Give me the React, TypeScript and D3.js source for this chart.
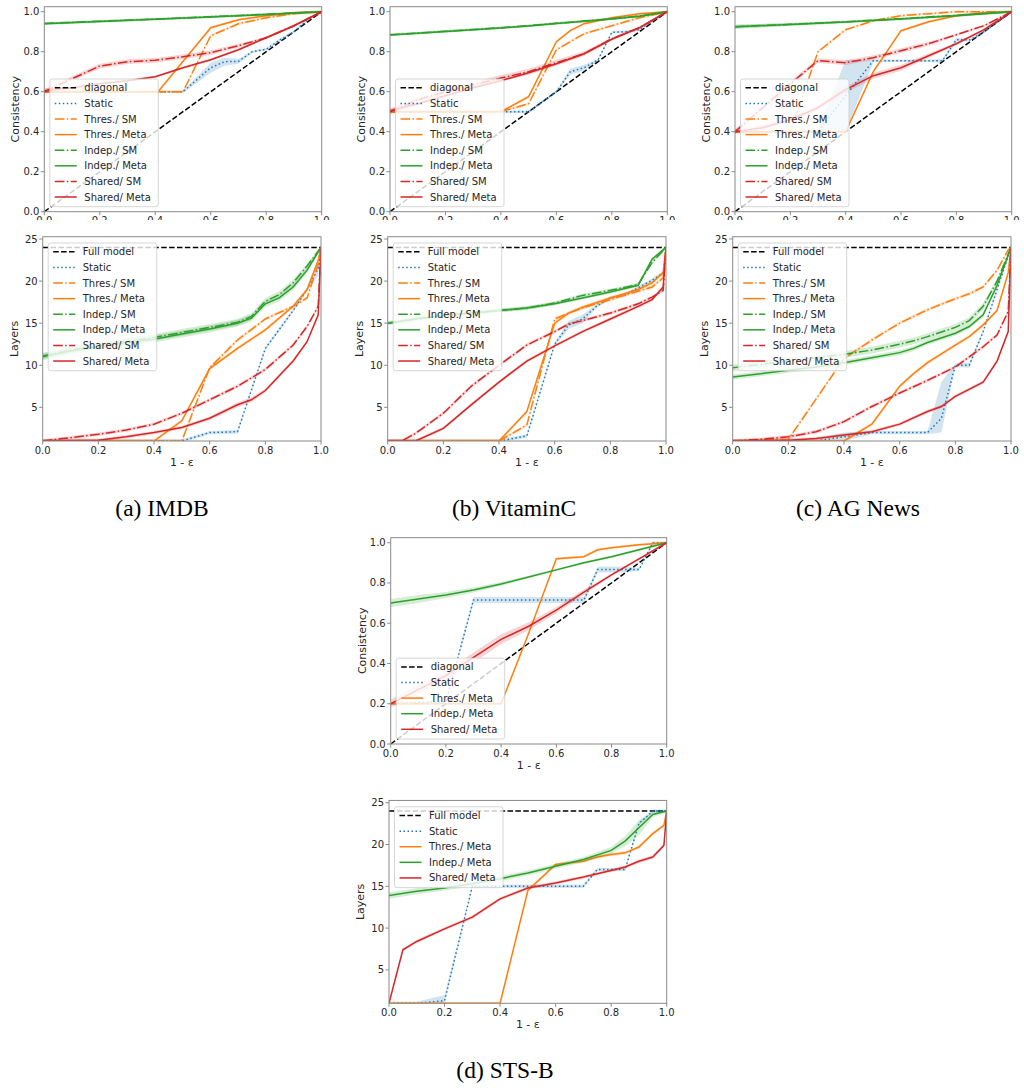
import React from "react";
import * as d3 from "d3";

type P = number[]; // [x, y, sd?] or [x, y, lo, hi]

// ---------------- IMDB ----------------
const imdbConsStatic: P[] = [[0, 0.6], [0.5, 0.6], [0.6, 0.72, 0.025], [0.65, 0.75, 0.02], [0.7, 0.752, 0.012], [0.75, 0.8], [0.8, 0.812], [0.85, 0.86], [0.9, 0.9], [0.95, 0.96], [1, 1]];
const imdbConsThresSM: P[] = [[0, 0.6], [0.5, 0.6], [0.6, 0.88], [0.7, 0.94], [0.8, 0.97], [0.9, 0.99], [1, 1]];
const imdbConsThresMeta: P[] = [[0, 0.6], [0.41, 0.6], [0.6, 0.92], [0.7, 0.96], [0.8, 0.98], [0.9, 0.995], [1, 1]];
const imdbConsIndepSM: P[] = [[0, 0.941], [0.2, 0.952], [0.4, 0.963], [0.6, 0.975], [0.8, 0.987], [1, 1]];
const imdbConsIndepMeta: P[] = [[0, 0.94], [0.2, 0.951], [0.4, 0.962], [0.6, 0.974], [0.8, 0.986], [1, 1]];
const imdbConsSharedSM: P[] = [[0, 0.6, 0.012], [0.1, 0.665, 0.012], [0.2, 0.728, 0.012], [0.3, 0.75, 0.012], [0.4, 0.757, 0.012], [0.5, 0.775, 0.012], [0.6, 0.795, 0.012], [0.7, 0.83, 0.01], [0.8, 0.87], [0.9, 0.93], [1, 1]];
const imdbConsSharedMeta: P[] = [[0, 0.605, 0.012], [0.1, 0.62], [0.2, 0.64], [0.3, 0.655], [0.4, 0.675], [0.5, 0.72], [0.6, 0.76], [0.7, 0.81], [0.8, 0.87], [0.9, 0.93], [1, 1]];

const imdbLayStatic: P[] = [[0, 1], [0.5, 1], [0.6, 2], [0.7, 2.1], [0.8, 12], [0.9, 16.5], [0.95, 19], [0.99, 21.5, 0.8], [1, 24]];
const imdbLayThresSM: P[] = [[0, 1], [0.5, 1], [0.6, 9.7], [0.7, 13], [0.8, 15.5], [0.9, 17], [0.95, 18], [0.99, 22], [1, 24]];
const imdbLayThresMeta: P[] = [[0, 1], [0.4, 1], [0.5, 3.4], [0.6, 9.6], [0.7, 12], [0.8, 14.2], [0.9, 17], [0.95, 19], [0.99, 22.5], [1, 24]];
const imdbLayIndepSM: P[] = [[0, 11.1, 0.4], [0.1, 11.8, 0.4], [0.2, 12.3, 0.4], [0.3, 12.8, 0.4], [0.4, 13.3, 0.4], [0.5, 13.9, 0.4], [0.6, 14.5, 0.4], [0.7, 15.1, 0.4], [0.75, 15.8, 0.4], [0.8, 17.6, 0.4], [0.85, 18.4, 0.4], [0.9, 19.8, 0.4], [0.95, 21.8, 0.3], [1, 24]];
const imdbLayIndepMeta: P[] = [[0, 11, 0.4], [0.1, 11.7, 0.4], [0.2, 12.2, 0.4], [0.3, 12.7, 0.4], [0.4, 13.1, 0.4], [0.5, 13.7, 0.4], [0.6, 14.3, 0.4], [0.7, 15, 0.4], [0.75, 15.6, 0.4], [0.8, 17.3, 0.4], [0.85, 18, 0.4], [0.9, 19.3, 0.4], [0.95, 21.3, 0.3], [1, 24]];
const imdbLaySharedSM: P[] = [[0, 1], [0.1, 1.4], [0.2, 1.8], [0.3, 2.3], [0.4, 3.0], [0.5, 4.3], [0.6, 5.9], [0.7, 7.5], [0.8, 9.5], [0.9, 12.4], [0.95, 14.6], [0.99, 17], [1, 24]];
const imdbLaySharedMeta: P[] = [[0, 1], [0.2, 1.1], [0.3, 1.5], [0.4, 2], [0.5, 2.6], [0.6, 3.7], [0.7, 5.3, 0.3], [0.75, 5.9, 0.3], [0.8, 7], [0.9, 10.5], [0.95, 12.8], [0.99, 16], [1, 24]];

// ---------------- VitaminC ----------------
const vitConsStatic: P[] = [[0, 0.5], [0.5, 0.5], [0.6, 0.6], [0.65, 0.7, 0.015], [0.7, 0.72, 0.015], [0.75, 0.758], [0.8, 0.897], [0.85, 0.9], [0.9, 0.91], [0.95, 0.96], [1, 1]];
const vitConsThresSM: P[] = [[0, 0.5], [0.4, 0.5], [0.5, 0.54], [0.6, 0.81], [0.7, 0.89], [0.8, 0.93], [0.9, 0.97], [1, 1]];
const vitConsThresMeta: P[] = [[0, 0.5], [0.4, 0.5], [0.5, 0.575], [0.6, 0.85], [0.65, 0.905], [0.7, 0.94], [0.8, 0.97], [0.9, 0.99], [1, 1]];
const vitConsIndepSM: P[] = [[0, 0.885], [0.1, 0.893], [0.2, 0.902], [0.3, 0.911], [0.4, 0.92], [0.5, 0.93], [0.6, 0.942], [0.7, 0.953], [0.8, 0.965], [0.9, 0.978], [1, 1]];
const vitConsIndepMeta: P[] = [[0, 0.884], [0.1, 0.892], [0.2, 0.901], [0.3, 0.91], [0.4, 0.919], [0.5, 0.929], [0.6, 0.941], [0.7, 0.952], [0.8, 0.964], [0.9, 0.977], [1, 1]];
const vitConsSharedSM: P[] = [[0, 0.5, 0.015], [0.1, 0.56, 0.015], [0.2, 0.6, 0.015], [0.3, 0.635, 0.015], [0.4, 0.668, 0.015], [0.5, 0.7, 0.015], [0.6, 0.745, 0.015], [0.7, 0.79, 0.012], [0.8, 0.865], [0.9, 0.92], [1, 1]];
const vitConsSharedMeta: P[] = [[0, 0.505, 0.01], [0.1, 0.54], [0.2, 0.58], [0.3, 0.62], [0.4, 0.655], [0.5, 0.695], [0.6, 0.74], [0.7, 0.79], [0.8, 0.862], [0.9, 0.92], [1, 1]];

const vitLayStatic: P[] = [[0, 1], [0.4, 1], [0.5, 1.6], [0.6, 12.5], [0.65, 14.8, 0.5], [0.7, 15.5, 0.5], [0.75, 17], [0.8, 18], [0.85, 18.3], [0.9, 19.2], [0.95, 20.1], [0.99, 21], [1, 24]];
const vitLayThresSM: P[] = [[0, 1], [0.4, 1], [0.5, 2.9], [0.6, 15.5], [0.65, 16.2], [0.7, 16.8], [0.8, 17.8], [0.9, 18.8], [0.95, 19.3], [0.99, 20.4], [1, 24]];
const vitLayThresMeta: P[] = [[0, 1], [0.4, 1], [0.5, 4.5], [0.6, 15], [0.65, 16.2], [0.7, 16.9], [0.8, 18], [0.9, 19], [0.95, 19.8], [0.99, 21], [1, 24]];
const vitLayIndepSM: P[] = [[0, 15], [0.1, 15.5], [0.2, 15.9], [0.3, 16.2], [0.4, 16.5], [0.5, 16.8], [0.6, 17.4], [0.7, 18.3], [0.8, 18.9], [0.9, 19.6], [0.95, 22.2], [1, 24]];
const vitLayIndepMeta: P[] = [[0, 15], [0.1, 15.5], [0.2, 15.9], [0.3, 16.2], [0.4, 16.5], [0.5, 16.8], [0.6, 17.3], [0.7, 18], [0.8, 18.7], [0.9, 19.5], [0.95, 22.6], [1, 24]];
const vitLaySharedSM: P[] = [[0, 1], [0.05, 1], [0.1, 1.9], [0.2, 4.3], [0.3, 7.5], [0.4, 10], [0.5, 12.4], [0.6, 14], [0.65, 14.9], [0.7, 15.3], [0.8, 16.2], [0.9, 17.3], [0.95, 18.1], [0.99, 18.9], [1, 24]];
const vitLaySharedMeta: P[] = [[0, 1], [0.1, 1], [0.2, 2.5], [0.3, 5.3], [0.4, 8], [0.5, 10.5], [0.6, 12.3], [0.7, 14], [0.8, 15.5], [0.9, 17], [0.95, 17.8], [0.99, 19.3], [1, 24]];

// ---------------- AG News ----------------
const agConsStatic: P[] = [[0, 0.4], [0.3, 0.4], [0.4, 0.58, 0.18], [0.5, 0.755], [0.6, 0.755], [0.7, 0.755], [0.75, 0.755, 0.01], [0.8, 0.86, 0.01], [0.85, 0.86], [0.9, 0.9], [1, 1]];
const agConsThresSM: P[] = [[0, 0.4], [0.2, 0.4], [0.3, 0.8], [0.4, 0.91], [0.5, 0.955], [0.6, 0.98], [0.7, 0.99], [0.8, 1], [1, 1]];
const agConsThresMeta: P[] = [[0, 0.4], [0.4, 0.4], [0.5, 0.7], [0.6, 0.905], [0.7, 0.95], [0.8, 0.98], [0.9, 0.995], [1, 1]];
const agConsIndepSM: P[] = [[0, 0.925, 0.01], [0.2, 0.937, 0.008], [0.4, 0.95], [0.6, 0.965], [0.8, 0.982], [1, 1]];
const agConsIndepMeta: P[] = [[0, 0.925, 0.01], [0.2, 0.936], [0.4, 0.948], [0.6, 0.963], [0.8, 0.98], [1, 1]];
const agConsSharedSM: P[] = [[0, 0.4, 0.012], [0.1, 0.52, 0.012], [0.2, 0.64, 0.012], [0.3, 0.755, 0.012], [0.4, 0.745, 0.012], [0.5, 0.77, 0.012], [0.6, 0.805, 0.012], [0.7, 0.84, 0.01], [0.8, 0.885], [0.9, 0.93], [1, 1]];
const agConsSharedMeta: P[] = [[0, 0.4, 0.012], [0.1, 0.42, 0.012], [0.2, 0.46, 0.012], [0.3, 0.52, 0.012], [0.4, 0.61, 0.015], [0.5, 0.68, 0.015], [0.6, 0.72, 0.015], [0.7, 0.78, 0.012], [0.8, 0.84], [0.9, 0.91], [1, 1]];

const agLayStatic: P[] = [[0, 1], [0.3, 1], [0.4, 1.5, 1, 2], [0.5, 2], [0.6, 2], [0.7, 2], [0.75, 3.7, 2, 8], [0.8, 10], [0.85, 10, 9.7, 10.3], [0.9, 14], [0.95, 19], [0.99, 23], [1, 24]];
const agLayThresSM: P[] = [[0, 1], [0.2, 1.2], [0.3, 6], [0.4, 10.8], [0.5, 13], [0.6, 15], [0.7, 16.6], [0.8, 17.9], [0.85, 18.5], [0.9, 19.3], [0.95, 21.3], [0.99, 23.7], [1, 24]];
const agLayThresMeta: P[] = [[0, 1], [0.4, 1], [0.5, 3], [0.6, 7.5], [0.65, 9], [0.7, 10.3], [0.8, 12.4], [0.85, 13.4], [0.9, 14.8], [0.95, 16.5], [0.99, 21], [1, 24]];
const agLayIndepSM: P[] = [[0, 9.7, 0.4], [0.1, 10.1, 0.4], [0.2, 10.5, 0.4], [0.3, 10.9, 0.4], [0.4, 11.3, 0.4], [0.5, 11.8, 0.4], [0.6, 12.5, 0.4], [0.65, 12.9, 0.4], [0.7, 13.4, 0.4], [0.8, 14.5, 0.4], [0.85, 15.3, 0.4], [0.9, 17, 0.4], [0.95, 20, 0.3], [1, 24]];
const agLayIndepMeta: P[] = [[0, 8.6, 0.3], [0.1, 9, 0.3], [0.2, 9.4, 0.3], [0.3, 9.8, 0.3], [0.4, 10.3, 0.3], [0.5, 10.9, 0.3], [0.6, 11.5, 0.3], [0.65, 12, 0.3], [0.7, 12.7, 0.3], [0.8, 13.8, 0.3], [0.85, 14.6, 0.3], [0.9, 16, 0.3], [0.95, 19.5, 0.3], [1, 24]];
const agLaySharedSM: P[] = [[0, 1], [0.1, 1.2], [0.2, 1.5], [0.3, 2.1], [0.4, 3.3], [0.5, 5.1], [0.6, 6.7], [0.7, 8.2], [0.8, 9.8], [0.85, 11], [0.9, 12.2], [0.95, 13.6], [0.99, 16.4], [1, 24]];
const agLaySharedMeta: P[] = [[0, 1], [0.1, 1.05], [0.2, 1.1], [0.3, 1.3], [0.4, 1.7], [0.5, 2.1], [0.6, 3], [0.7, 4.5], [0.75, 5.1], [0.8, 6.3], [0.9, 8], [0.95, 10.5], [0.99, 14], [1, 24]];

// ---------------- STS-B ----------------
const stsConsStatic: P[] = [[0, 0.2], [0.2, 0.21], [0.3, 0.715, 0.015], [0.4, 0.715, 0.015], [0.5, 0.715, 0.015], [0.6, 0.715, 0.015], [0.7, 0.715, 0.015], [0.75, 0.867, 0.015], [0.8, 0.867, 0.015], [0.85, 0.867, 0.015], [0.9, 0.867], [0.95, 1], [1, 1]];
const stsConsThresMeta: P[] = [[0, 0.2], [0.4, 0.2], [0.5, 0.55], [0.6, 0.92], [0.7, 0.93], [0.75, 0.965], [0.8, 0.975], [0.9, 0.99], [1, 1]];
const stsConsIndepMeta: P[] = [[0, 0.7, 0.02], [0.1, 0.72, 0.02], [0.2, 0.74, 0.015], [0.3, 0.765, 0.012], [0.4, 0.795, 0.01], [0.5, 0.83], [0.6, 0.865], [0.7, 0.9], [0.8, 0.93], [0.9, 0.965], [1, 1]];
const stsConsSharedMeta: P[] = [[0, 0.2, 0.02], [0.1, 0.27, 0.025], [0.2, 0.34, 0.025], [0.3, 0.43, 0.025], [0.4, 0.52, 0.025], [0.5, 0.585, 0.02], [0.6, 0.665, 0.015], [0.7, 0.755, 0.012], [0.8, 0.84], [0.9, 0.92], [1, 1]];

const stsLayStatic: P[] = [[0, 1], [0.1, 1], [0.2, 1.3, 1, 2], [0.3, 15], [0.4, 15], [0.5, 15], [0.6, 15], [0.7, 15], [0.75, 17], [0.8, 17], [0.85, 17], [0.9, 22.5], [0.95, 24], [1, 24]];
const stsLayThresMeta: P[] = [[0, 1], [0.4, 1], [0.5, 14.5], [0.6, 17.6], [0.7, 18], [0.75, 18.5], [0.8, 18.8], [0.85, 19], [0.9, 19.7], [0.95, 21.3], [0.99, 22.3], [1, 24]];
const stsLayIndepMeta: P[] = [[0, 13.9, 0.4], [0.1, 14.4, 0.35], [0.2, 14.8, 0.3], [0.3, 15.3, 0.3], [0.4, 15.9, 0.3], [0.5, 16.6, 0.3], [0.6, 17.4, 0.3], [0.7, 18.2, 0.3], [0.8, 19.3, 0.4], [0.85, 20.4, 0.6], [0.9, 22, 0.9], [0.95, 23.6, 0.3], [1, 24]];
const stsLaySharedMeta: P[] = [[0, 1], [0.05, 7.4], [0.1, 8.4], [0.2, 9.9], [0.3, 11.3], [0.4, 13.5], [0.5, 14.8], [0.6, 15.4], [0.7, 16.1], [0.8, 16.9], [0.85, 17.3], [0.9, 18], [0.95, 18.5], [0.99, 19.9], [1, 24]];

// ---------------- labels ----------------
const X_TICKS = [0, 0.2, 0.4, 0.6, 0.8, 1.0];
const CONS_TICKS = [0, 0.2, 0.4, 0.6, 0.8, 1.0];
const LAYER_TICKS = [5, 10, 15, 20, 25];
const X_LABEL = "1 - ε";
const CAPTIONS = ["(a) IMDB", "(b) VitaminC", "(c) AG News", "(d) STS-B"];

// ---------------- styles ----------------
const STYLE: Record<string, { color: string; dash?: string }> = {
  diagonal: { color: "#000000", dash: "5.5,2.4" },
  "Full model": { color: "#000000", dash: "5.5,2.4" },
  Static: { color: "#1f77b4", dash: "1.5,2.5" },
  "Thres./ SM": { color: "#ff7f0e", dash: "9.6,2.4,1.5,2.4" },
  "Thres./ Meta": { color: "#ff7f0e" },
  "Indep./ SM": { color: "#2ca02c", dash: "9.6,2.4,1.5,2.4" },
  "Indep./ Meta": { color: "#2ca02c" },
  "Shared/ SM": { color: "#d62728", dash: "9.6,2.4,1.5,2.4" },
  "Shared/ Meta": { color: "#d62728" },
};

type Ser = [string, P[]];
type PanelDef = {
  id: string;
  kind: "cons" | "layers";
  series: Ser[];
  x0: number;
  x1: number;
  yLo: number; // pixel of lowest tick value (0 or 1)
  yHi: number; // pixel of 1.0 or 25
  clip: [number, number];
};

const PANELS: PanelDef[] = [
  {
    id: "aT", kind: "cons", x0: 44.3, x1: 321.7, yLo: 211.7, yHi: 11.7, clip: [0, 220],
    series: [["Static", imdbConsStatic], ["Thres./ SM", imdbConsThresSM], ["Thres./ Meta", imdbConsThresMeta], ["Indep./ SM", imdbConsIndepSM], ["Indep./ Meta", imdbConsIndepMeta], ["Shared/ SM", imdbConsSharedSM], ["Shared/ Meta", imdbConsSharedMeta]],
  },
  {
    id: "bT", kind: "cons", x0: 390, x1: 667.3, yLo: 211.7, yHi: 11.7, clip: [0, 220],
    series: [["Static", vitConsStatic], ["Thres./ SM", vitConsThresSM], ["Thres./ Meta", vitConsThresMeta], ["Indep./ SM", vitConsIndepSM], ["Indep./ Meta", vitConsIndepMeta], ["Shared/ SM", vitConsSharedSM], ["Shared/ Meta", vitConsSharedMeta]],
  },
  {
    id: "cT", kind: "cons", x0: 735, x1: 1011.7, yLo: 211.7, yHi: 11.7, clip: [0, 220],
    series: [["Static", agConsStatic], ["Thres./ SM", agConsThresSM], ["Thres./ Meta", agConsThresMeta], ["Indep./ SM", agConsIndepSM], ["Indep./ Meta", agConsIndepMeta], ["Shared/ SM", agConsSharedSM], ["Shared/ Meta", agConsSharedMeta]],
  },
  {
    id: "aB", kind: "layers", x0: 42.7, x1: 321, yLo: 441, yHi: 239, clip: [220, 480],
    series: [["Static", imdbLayStatic], ["Thres./ SM", imdbLayThresSM], ["Thres./ Meta", imdbLayThresMeta], ["Indep./ SM", imdbLayIndepSM], ["Indep./ Meta", imdbLayIndepMeta], ["Shared/ SM", imdbLaySharedSM], ["Shared/ Meta", imdbLaySharedMeta]],
  },
  {
    id: "bB", kind: "layers", x0: 387.7, x1: 666, yLo: 441, yHi: 239, clip: [220, 480],
    series: [["Static", vitLayStatic], ["Thres./ SM", vitLayThresSM], ["Thres./ Meta", vitLayThresMeta], ["Indep./ SM", vitLayIndepSM], ["Indep./ Meta", vitLayIndepMeta], ["Shared/ SM", vitLaySharedSM], ["Shared/ Meta", vitLaySharedMeta]],
  },
  {
    id: "cB", kind: "layers", x0: 732.7, x1: 1011, yLo: 441, yHi: 239, clip: [220, 480],
    series: [["Static", agLayStatic], ["Thres./ SM", agLayThresSM], ["Thres./ Meta", agLayThresMeta], ["Indep./ SM", agLayIndepSM], ["Indep./ Meta", agLayIndepMeta], ["Shared/ SM", agLaySharedSM], ["Shared/ Meta", agLaySharedMeta]],
  },
  {
    id: "dT", kind: "cons", x0: 390.7, x1: 666.7, yLo: 744, yHi: 542.7, clip: [525, 775],
    series: [["Static", stsConsStatic], ["Thres./ Meta", stsConsThresMeta], ["Indep./ Meta", stsConsIndepMeta], ["Shared/ Meta", stsConsSharedMeta]],
  },
  {
    id: "dB", kind: "layers", x0: 389, x1: 666.7, yLo: 1003.3, yHi: 802.7, clip: [775, 1040],
    series: [["Static", stsLayStatic], ["Thres./ Meta", stsLayThresMeta], ["Indep./ Meta", stsLayIndepMeta], ["Shared/ Meta", stsLaySharedMeta]],
  },
];

const CAPTION_POS: [number, number][] = [[162, 516], [514, 516], [858, 516], [505, 1078]];

const FONT = "'DejaVu Sans', sans-serif";
const SPINE = "#8a8a8a";
const TEXT = "#262626";

function Panel({ p }: { p: PanelDef }) {
  const isC = p.kind === "cons";
  const x = d3.scaleLinear().domain([0, 1]).range([p.x0, p.x1]);
  const y = d3.scaleLinear().domain(isC ? [0, 1] : [1, 25]).range([p.yLo, p.yHi]);
  const top = y(isC ? 1.025 : 25.27);
  const bottom = p.yLo;
  const defSd = isC ? 0.006 : 0.2;
  const lo = (d: P) => (d.length === 4 ? d[2] : d[1] - (d[2] ?? defSd));
  const hi = (d: P) => (d.length === 4 ? d[3] : d[1] + (d[2] ?? defSd));
  const line = d3.line<P>().x((d) => x(d[0])).y((d) => y(d[1]));
  const area = d3.area<P>().x((d) => x(d[0])).y0((d) => y(lo(d))).y1((d) => y(hi(d)));
  const refName = isC ? "diagonal" : "Full model";
  const refPts: P[] = isC ? [[0, 0], [1, 1]] : [[0, 24], [1, 24]];
  const names = [refName, ...p.series.map((s) => s[0])];
  const n = names.length;
  const rowH = 15.6;
  const lgW = 108.5;
  const lgH = 18.5 + (n - 1) * rowH;
  const lgX = p.x0 + 5.5;
  const lgY = isC ? bottom - 5 - lgH : top + 6.3;
  const yTicks = isC ? CONS_TICKS : LAYER_TICKS;
  const fmt = d3.format(".1f");
  const clipId = "frame-" + p.id;
  const outId = "out-" + p.id;
  return (
    <g clipPath={`url(#${outId})`}>
      <defs>
        <clipPath id={clipId}>
          <rect x={p.x0} y={top} width={p.x1 - p.x0} height={bottom - top} />
        </clipPath>
        <clipPath id={outId}>
          <rect x={0} y={p.clip[0]} width={1024} height={p.clip[1] - p.clip[0]} />
        </clipPath>
      </defs>
      <g clipPath={`url(#${clipId})`}>
        <path d={line(refPts) || ""} fill="none" stroke="#000" strokeWidth={1.5} strokeDasharray={STYLE[refName].dash} />
        {p.series.map(([name, pts]) => (
          <g key={name}>
            <path d={area(pts) || ""} fill={STYLE[name].color} fillOpacity={0.2} stroke="none" />
            <path d={line(pts) || ""} fill="none" stroke={STYLE[name].color} strokeWidth={1.5} strokeDasharray={STYLE[name].dash} />
          </g>
        ))}
      </g>
      <rect x={p.x0} y={top} width={p.x1 - p.x0} height={bottom - top} fill="none" stroke={SPINE} strokeWidth={1} />
      {X_TICKS.map((t) => (
        <g key={"x" + t}>
          <line x1={x(t)} x2={x(t)} y1={bottom} y2={bottom + 3.5} stroke={SPINE} />
          <text x={x(t)} y={bottom + 12.5} textAnchor="middle" fontSize={10} fontFamily={FONT} fill={TEXT}>
            {fmt(t)}
          </text>
        </g>
      ))}
      {yTicks.map((t) => (
        <g key={"y" + t}>
          <line x1={p.x0 - 3.5} x2={p.x0} y1={y(t)} y2={y(t)} stroke={SPINE} />
          <text x={p.x0 - 5} y={y(t)} dy="0.35em" textAnchor="end" fontSize={10} fontFamily={FONT} fill={TEXT}>
            {isC ? fmt(t) : String(t)}
          </text>
        </g>
      ))}
      <text x={(p.x0 + p.x1) / 2} y={bottom + 25} textAnchor="middle" fontSize={11} fontFamily={FONT} fill={TEXT}>
        {X_LABEL}
      </text>
      <text
        transform={`translate(${p.x0 - 29},${(top + bottom) / 2}) rotate(-90)`}
        dy="0.35em"
        textAnchor="middle"
        fontSize={11}
        fontFamily={FONT}
        fill={TEXT}
      >
        {isC ? "Consistency" : "Layers"}
      </text>
      <rect x={lgX} y={lgY} width={lgW} height={lgH} rx={2.5} fill="#ffffff" fillOpacity={0.8} stroke="#cccccc" strokeWidth={0.8} />
      {names.map((nm, i) => {
        const cy = lgY + 8.8 + i * rowH;
        return (
          <g key={"lg" + nm}>
            <line x1={lgX + 5} x2={lgX + 27} y1={cy} y2={cy} stroke={STYLE[nm].color} strokeWidth={1.5} strokeDasharray={STYLE[nm].dash} />
            <text x={lgX + 34.5} y={cy} dy="0.35em" fontSize={10} fontFamily={FONT} fill={TEXT}>
              {nm}
            </text>
          </g>
        );
      })}
    </g>
  );
}

export default function App() {
  return (
    <svg width={1024} height={1088} style={{ position: "absolute", left: 0, top: 0, background: "#fff" }}>
      <rect x={0} y={0} width={1024} height={1088} fill="#fff" />
      {PANELS.map((p) => (
        <Panel key={p.id} p={p} />
      ))}
      {CAPTIONS.map((c, i) => (
        <text key={c} x={CAPTION_POS[i][0]} y={CAPTION_POS[i][1]} textAnchor="middle" fontSize={23.5} fontFamily="'Liberation Serif', serif" fill="#000">
          {c}
        </text>
      ))}
    </svg>
  );
}
